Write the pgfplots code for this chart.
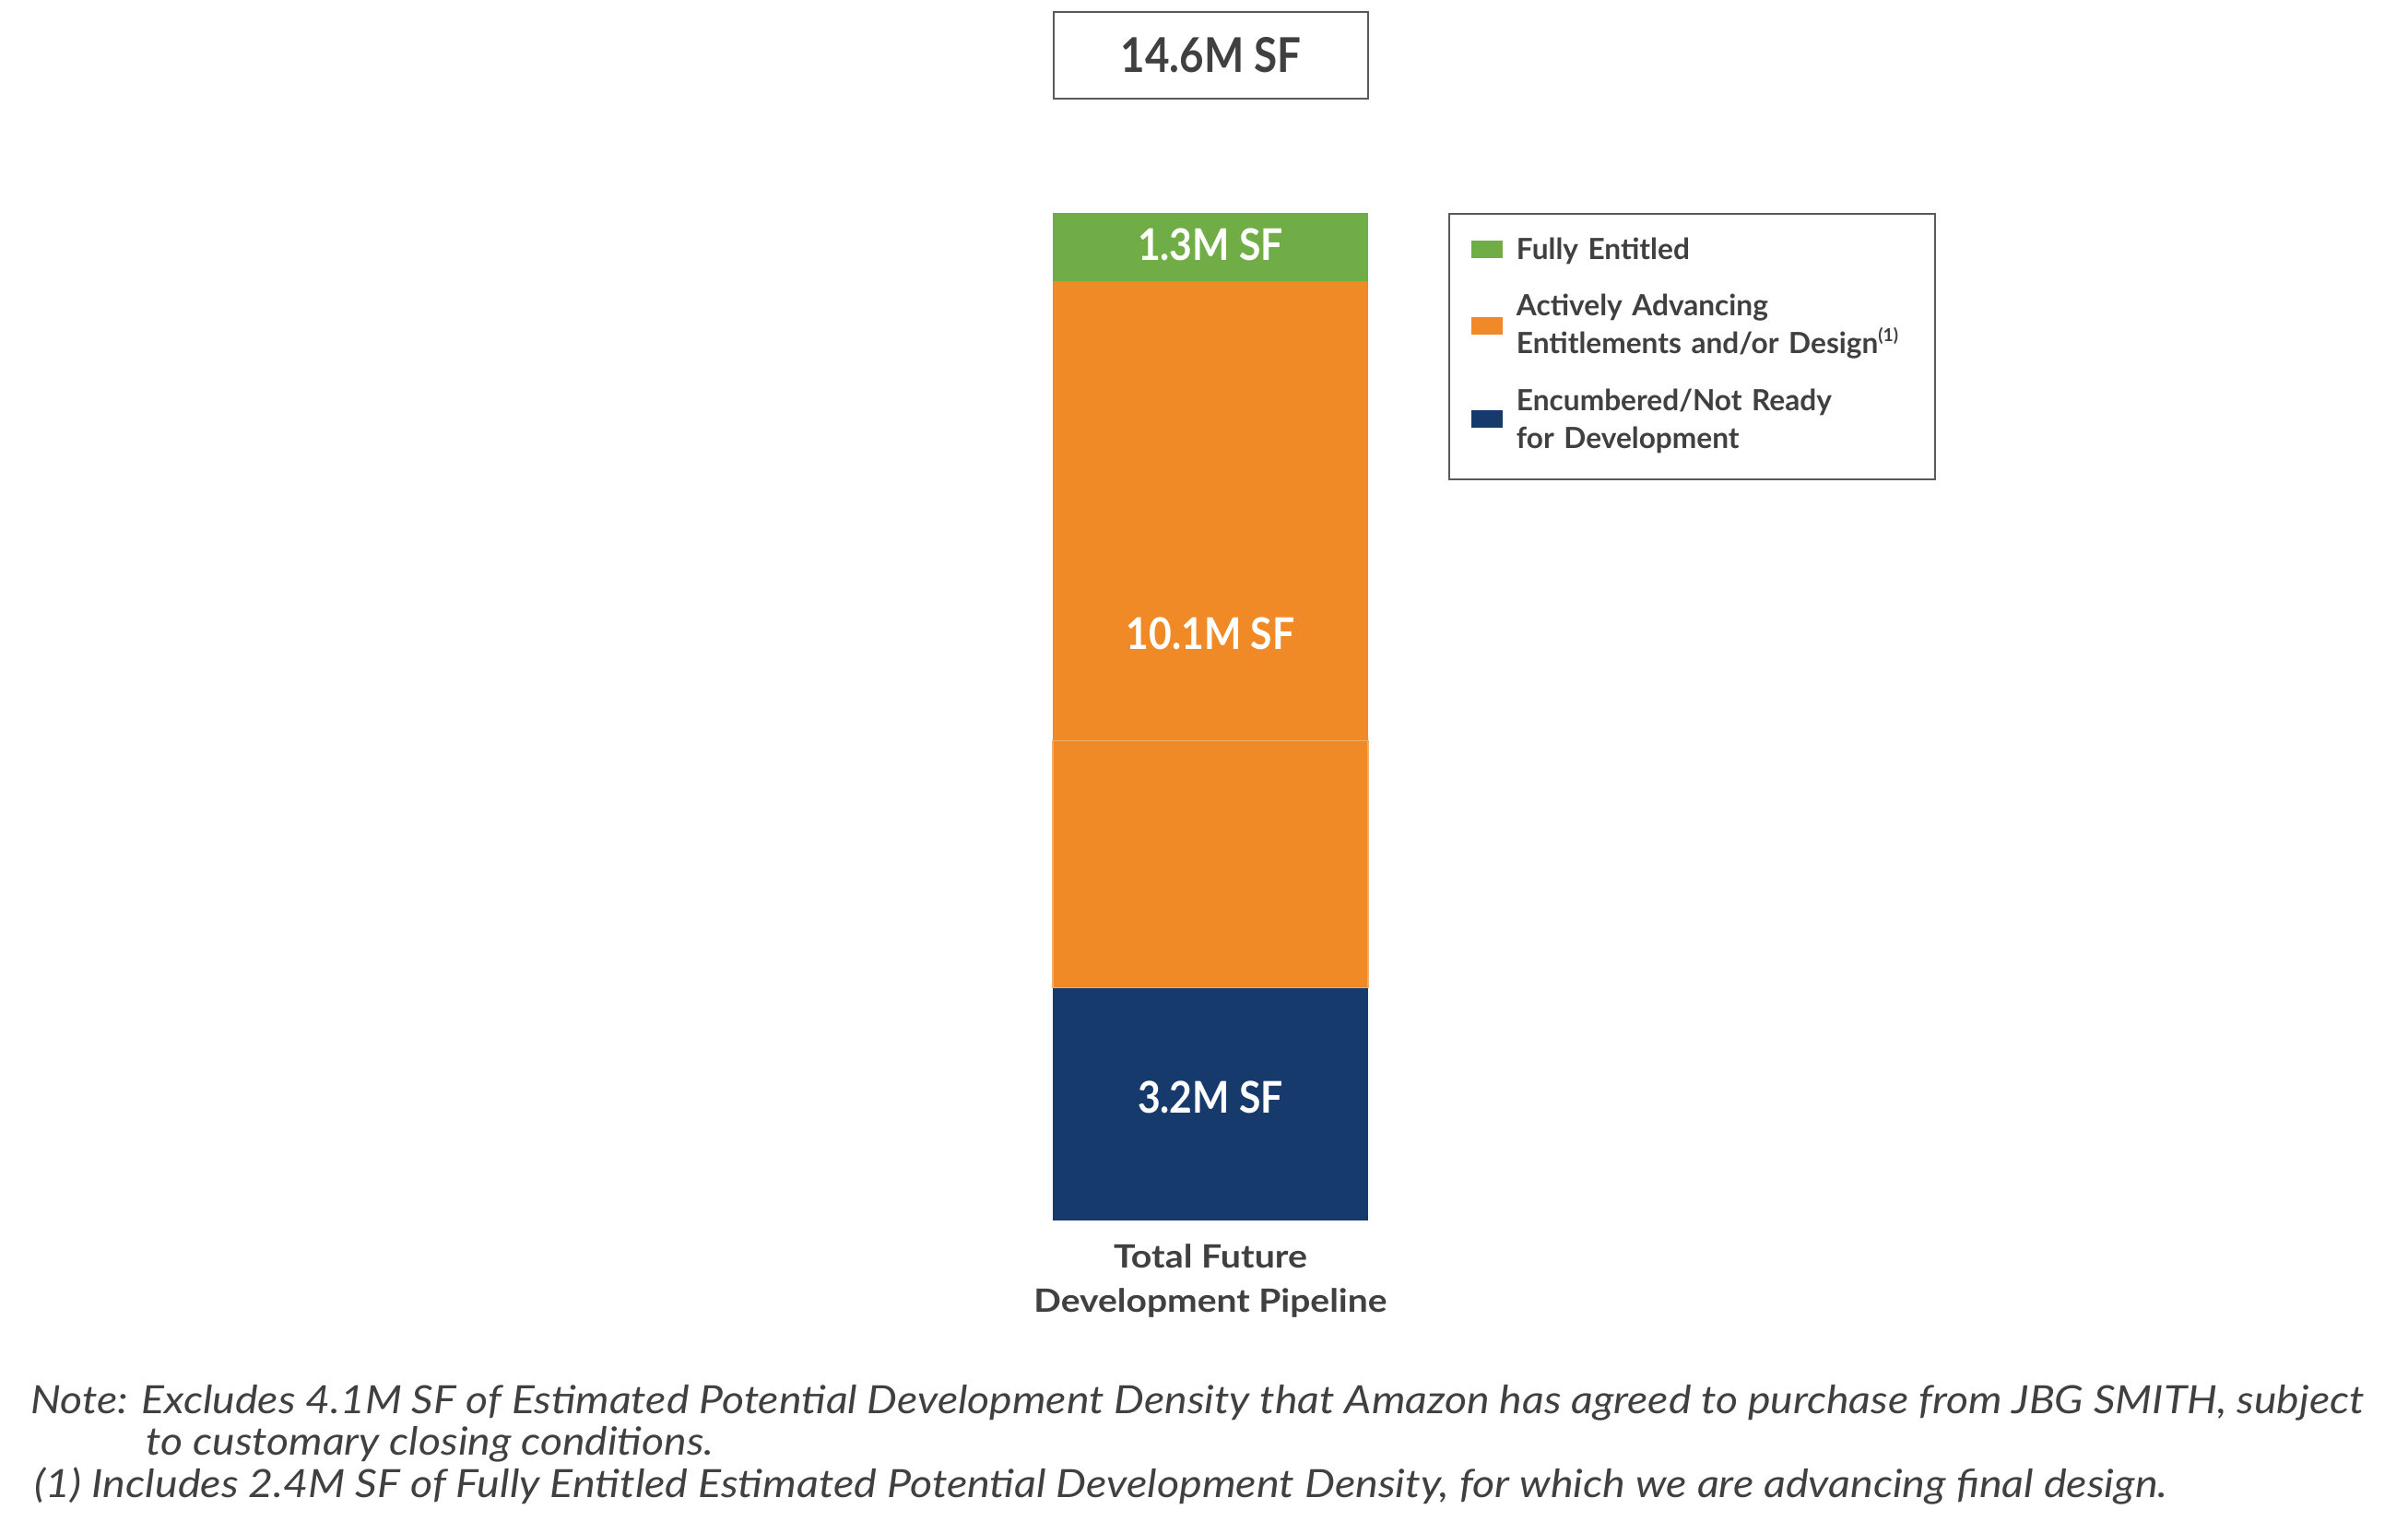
\documentclass[border=0pt]{standalone}
\usepackage{fontspec}
\setmainfont{Lato}
\usepackage{graphicx}
\usepackage{pgfplots}
\pgfplotsset{compat=1.18}
\definecolor{cgreen}{HTML}{70AD47}
\definecolor{corange}{HTML}{F08A26}
\definecolor{cnavy}{HTML}{163A6C}
\definecolor{ctext}{HTML}{404040}
\definecolor{cbox}{HTML}{5A5A5A}
\newlength\lineA
\newcommand\notefont{\itshape\fontsize{12}{14}\selectfont}
\newcommand\rowstrut[1]{\rule[-3.5pt]{0pt}{\dimexpr #1+3.5pt\relax}}
\newcommand\barlab[1]{\scalebox{0.9}[1]{\bfseries\fontsize{13.5}{15}\selectfont #1}}
\begin{document}%
\settowidth\lineA{\notefont Note: Excludes 4.1M SF of Estimated Potential Development Density that Amazon has agreed to purchase from JBG SMITH, subject}%
\pgfmathsetmacro\sx{25.30cm/\lineA}%
\begin{tikzpicture}[x=1cm,y=1cm]
\path[use as bounding box] (0,0) rectangle (26.12,16.62);
\begin{axis}[
  at={(11.42cm,3.38cm)}, anchor=south west,
  scale only axis, width=3.42cm, height=10.93cm,
  xmin=-0.5, xmax=0.5, ymin=0, ymax=14.6,
  ybar stacked, bar width=3.42cm,
  axis lines=none, xtick=\empty, ytick=\empty,
  clip=false,
  legend style={
    at={(1.2544,1.0)}, anchor=north west,
    draw=cbox, line width=0.55pt, fill=white,
    inner xsep=0.25cm, inner ysep=6pt,
    row sep=0pt,
    font=\bfseries\fontsize{9}{11}\selectfont,
    text=ctext,
    cells={anchor=base west},
    nodes={inner sep=0pt, text width=4.29cm, align=left, text=ctext, text height={}, text depth={}},
    /tikz/every odd column/.append style={column sep=0.48cm},
  },
]
\addplot[fill=cnavy, draw=none, forget plot] coordinates {(0,3.37)};
\addplot[fill=corange, draw=corange!70!white, line width=0.3pt, forget plot] coordinates {(0,3.58)};
\addplot[fill=corange, draw=none, forget plot] coordinates {(0,6.66)};
\addplot[fill=cgreen, draw=none, forget plot] coordinates {(0,0.99)};
\addlegendimage{legend image code/.code={\fill[cgreen,overlay] (0cm,0.025cm) rectangle (0.32cm,0.195cm);}}
\addlegendentry{\rowstrut{8.16pt}Fully Entitled}
\addlegendimage{legend image code/.code={\fill[corange,overlay] (0cm,-0.195cm) rectangle (0.32cm,-0.025cm);}}
\addlegendentry{\rowstrut{13.85pt}Actively Advancing}
\addlegendimage{empty legend}
\addlegendentry{\rowstrut{8.16pt}Entitlements and/or Design\textsuperscript{\fontsize{5.5}{6}\selectfont(1)}}
\addlegendimage{legend image code/.code={\fill[cnavy,overlay] (0cm,-0.175cm) rectangle (0.32cm,-0.005cm);}}
\addlegendentry{\rowstrut{14.14pt}Encumbered/Not Ready}
\addlegendimage{empty legend}
\addlegendentry{\rowstrut{8.16pt}for Development}
\coordinate (L1) at (axis cs:0,1.79);
\coordinate (L2) at (axis cs:0,8.50);
\coordinate (L3) at (axis cs:0,14.14);
\end{axis}
\node[text=white, inner sep=0pt] at (L1) {\barlab{3.2M SF}};
\node[text=white, inner sep=0pt] at (L2) {\barlab{10.1M SF}};
\node[text=white, inner sep=0pt] at (L3) {\barlab{1.3M SF}};
\node[draw=cbox, line width=0.6pt, minimum width=3.41cm, minimum height=0.94cm, inner sep=0pt, text=ctext] at (13.135,16.02) {\scalebox{0.88}[1]{\bfseries\fontsize{14.8}{17}\selectfont 14.6M SF}};
\node[anchor=base, inner sep=0pt, text=ctext] at (13.13,2.87) {\scalebox{1.13}[1]{\bfseries\fontsize{9.9}{12}\selectfont Total Future}};
\node[anchor=base, inner sep=0pt, text=ctext] at (13.13,2.39) {\scalebox{1.12}[1]{\bfseries\fontsize{9.9}{12}\selectfont Development Pipeline}};
\node[anchor=base west, inner sep=0pt, text=ctext] at (0.33,1.29) {\scalebox{\sx}[1]{\notefont Note: Excludes 4.1M SF of Estimated Potential Development Density that Amazon has agreed to purchase from JBG SMITH, subject}};
\node[anchor=base west, inner sep=0pt, text=ctext] at (1.58,0.84) {\scalebox{\sx}[1]{\notefont to customary closing conditions.}};
\node[anchor=base west, inner sep=0pt, text=ctext] at (0.37,0.38) {\resizebox{23.13cm}{\height}{\notefont (1) Includes 2.4M SF of Fully Entitled Estimated Potential Development Density, for which we are advancing final design.}};
\end{tikzpicture}%
\end{document}
